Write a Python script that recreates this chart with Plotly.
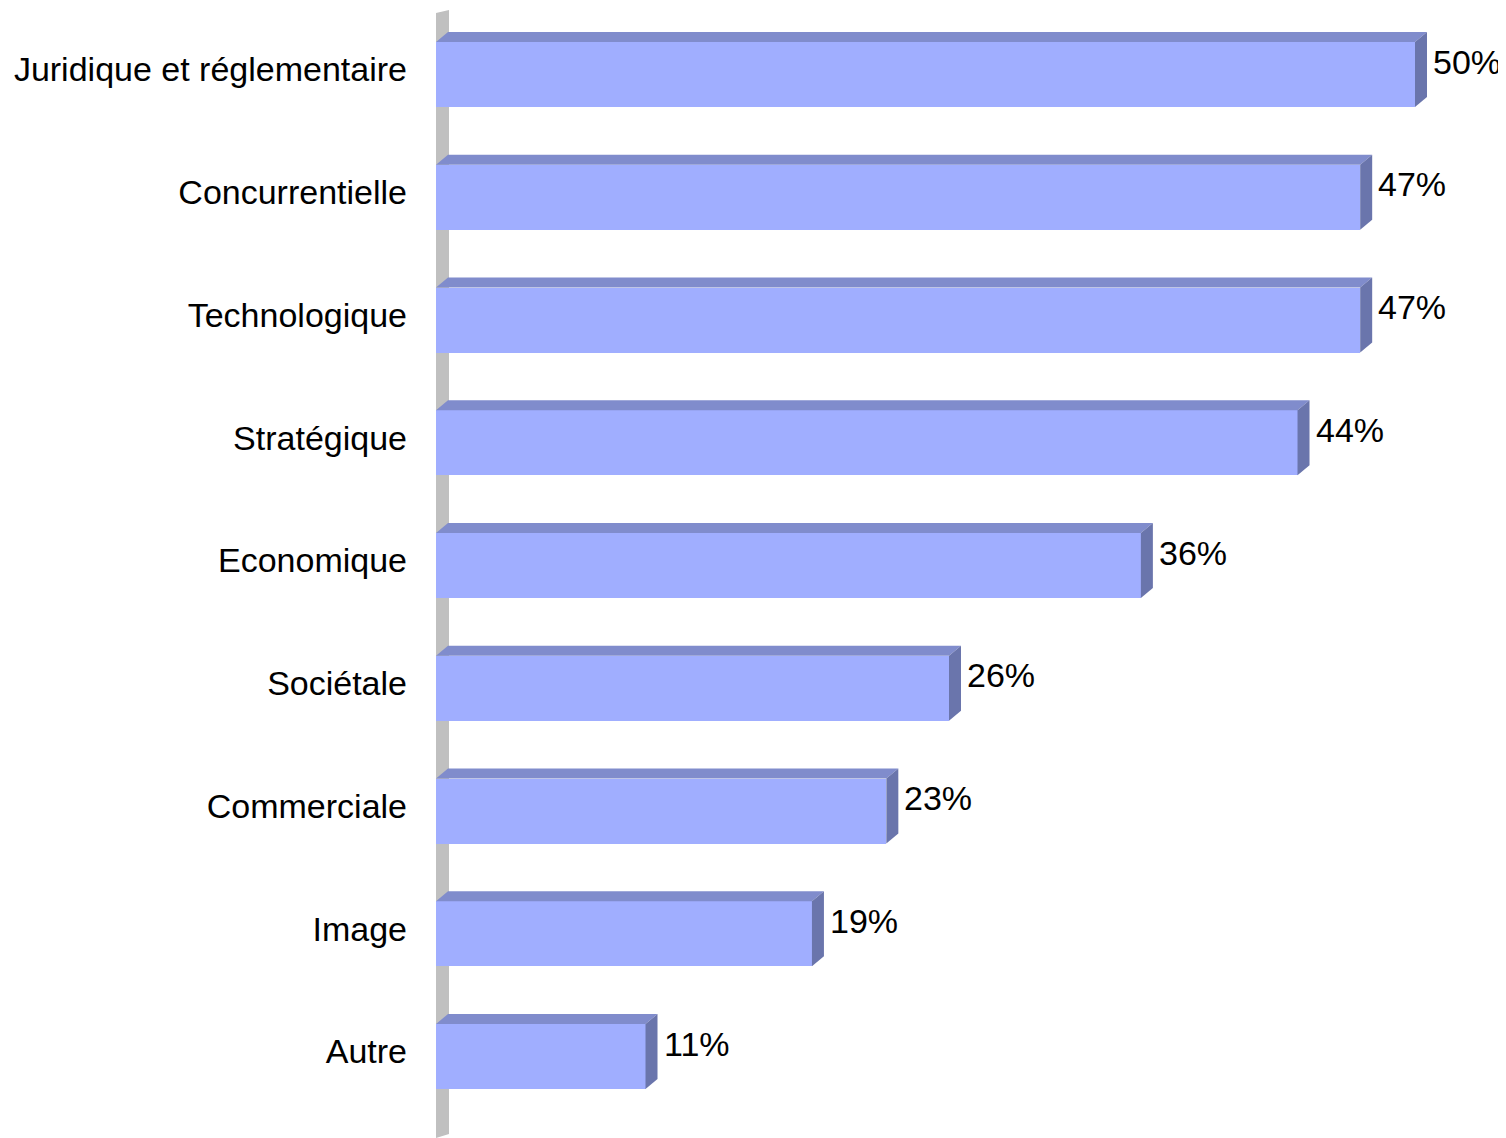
import plotly.graph_objects as go

categories = ["Juridique et réglementaire", "Concurrentielle", "Technologique", "Stratégique",
              "Economique", "Sociétale", "Commerciale", "Image", "Autre"]
values = [50.0, 47.2, 47.2, 44.0, 36.0, 26.2, 23.0, 19.2, 10.7]
labels = ["50%", "47%", "47%", "44%", "36%", "26%", "23%", "19%", "11%"]

FRONT = "#A0AEFF"
TOP = "#808CCC"
SIDE = "#6A75AC"
WALL = "#C0C0C0"
FONT = "Liberation Sans, Arial, sans-serif"

BODY = 8  # default page margin of the html body
W, H = 1506 - BODY, 1138 - BODY
ML, MR, MT, MB = 436 - BODY, 0, 10 - BODY, 0
px_per_x = 19.58
px_per_cat = 122.75
plot_h = H - MT - MB
xmax = (W - ML - MR) / px_per_x
ytop = -(74.5 - 10) / px_per_cat
ybot = ytop + plot_h / px_per_cat

dx = 12 / px_per_x
dy = 10 / px_per_cat
half = 32.5 / px_per_cat

pos = list(range(len(categories)))

fig = go.Figure()
fig.add_trace(go.Bar(x=values, y=pos, orientation="h", width=2 * half,
                     marker=dict(color=FRONT, line=dict(width=0)), hoverinfo="skip"))

for p, v in zip(pos, values):
    yt = p - half
    yb = p + half
    # top face
    fig.add_trace(go.Scatter(x=[0, v, v + dx, dx, 0], y=[yt, yt, yt - dy, yt - dy, yt],
                             mode="lines", fill="toself", fillcolor=TOP,
                             line=dict(width=0, color=TOP), hoverinfo="skip", showlegend=False))
    # side face
    fig.add_trace(go.Scatter(x=[v, v + dx, v + dx, v, v], y=[yt, yt - dy, yb - dy, yb, yt],
                             mode="lines", fill="toself", fillcolor=SIDE,
                             line=dict(width=0, color=SIDE), hoverinfo="skip", showlegend=False))

for p, v, t in zip(pos, values, labels):
    fig.add_annotation(x=v + dx, y=p, text=t, showarrow=False, xanchor="left", yanchor="middle",
                       xshift=4, yshift=13, font=dict(family=FONT, size=34, color="black"))

wall_w = 13 / px_per_x
fig.add_shape(type="path", xref="x", yref="paper", layer="below",
              path=f"M 0,0 L 0,{1 - 3 / plot_h} L {wall_w},1 L {wall_w},{4 / plot_h} Z",
              fillcolor=WALL, line=dict(width=0))

fig.update_layout(
    width=W, height=H, margin=dict(l=ML, r=MR, t=MT, b=MB, pad=0),
    paper_bgcolor="white", plot_bgcolor="white", showlegend=False,
    xaxis=dict(range=[0, xmax], visible=False, fixedrange=True),
    yaxis=dict(range=[ybot, ytop], tickvals=[p - 5 / px_per_cat for p in pos], ticktext=categories,
               showgrid=False, zeroline=False, showline=False, ticks="", ticklabelstandoff=28,
               tickfont=dict(family=FONT, size=34, color="black"), fixedrange=True),
    bargap=0,
)

fig.write_html("out.html")
